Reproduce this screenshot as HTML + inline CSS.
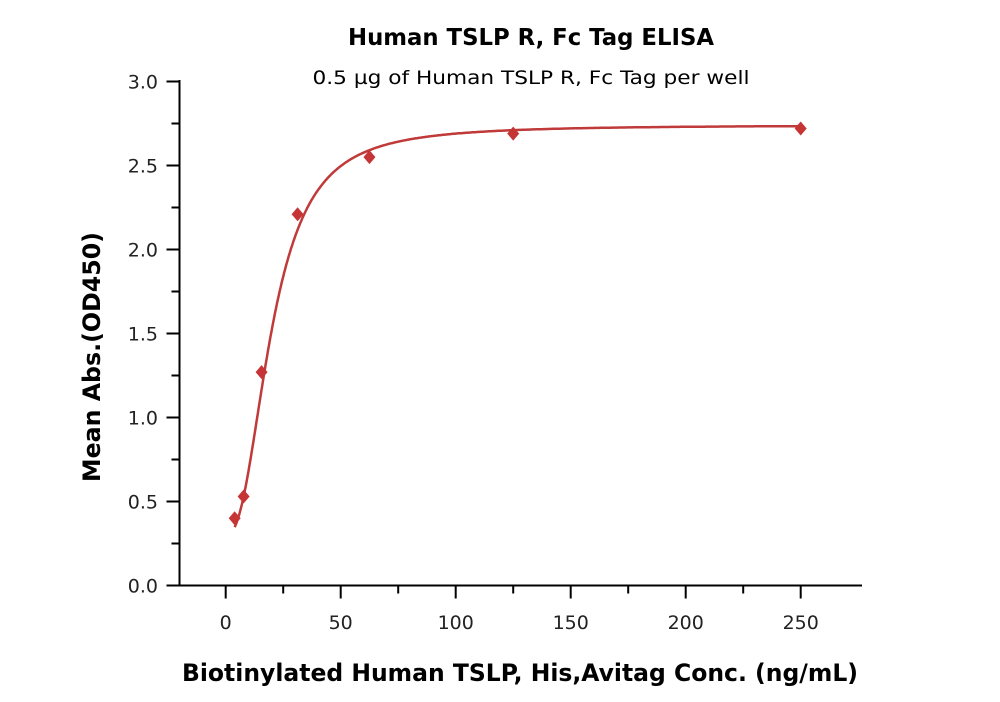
<!DOCTYPE html>
<html><head><style>body{margin:0;background:#fff}svg{display:block}</style></head><body>
<svg id="s" width="1000" height="702" xmlns="http://www.w3.org/2000/svg" font-family="'DejaVu Sans','Liberation Sans',sans-serif">
<text x="531" y="45" text-anchor="middle" font-size="23" font-weight="bold" textLength="366" lengthAdjust="spacingAndGlyphs">Human TSLP R, Fc Tag ELISA</text>
<text x="531" y="84" text-anchor="middle" font-size="19" textLength="437" lengthAdjust="spacingAndGlyphs">0.5 µg of Human TSLP R, Fc Tag per well</text>
<text x="520" y="681" text-anchor="middle" font-size="24" font-weight="bold" textLength="676" lengthAdjust="spacingAndGlyphs">Biotinylated Human TSLP, His,Avitag Conc. (ng/mL)</text>
<text transform="translate(100,357) rotate(-90)" text-anchor="middle" font-size="24" font-weight="bold" textLength="250" lengthAdjust="spacingAndGlyphs">Mean Abs.(OD450)</text>
<g id="ax" stroke="#000" stroke-width="2" fill="none"></g>
<g id="lb" font-size="19" fill="#222"></g>
<path id="cv" fill="none" stroke="#c03a3a" stroke-width="2.5"/>
<g id="pt" fill="#c63535"></g>
</svg>
<script>
const X=v=>225.7+v*2.3, Y=v=>585.5-v*168;
const ns="http://www.w3.org/2000/svg";
function el(p,t,a,txt){const e=document.createElementNS(ns,t);for(const k in a)e.setAttribute(k,a[k]);if(txt!=null)e.textContent=txt;document.getElementById(p).appendChild(e);}
el("ax","path",{d:"M179.5 80 V585.5 H862"});
for(let i=0;i<=12;i++){const v=i*0.25,y=Y(v),L=i%2?8:13;el("ax","path",{d:`M179.5 ${y} h${-L}`});if(i%2==0)el("lb","text",{x:158,y:y+7,"text-anchor":"end"},v.toFixed(1));}
for(let i=0;i<=10;i++){const v=i*25,x=X(v),L=i%2?8:13;el("ax","path",{d:`M${x} 585.5 v${L}`});if(i%2==0)el("lb","text",{x:x,y:629,"text-anchor":"middle"},String(v));}
let d="";for(let x=3.9;x<=250;x+=0.5){const y=2.74-2.44/(1+Math.pow(x/20,2.4));d+=(d?"L":"M")+X(x).toFixed(1)+" "+Y(y).toFixed(1);}
document.getElementById("cv").setAttribute("d",d);
[[3.9,0.40],[7.8,0.53],[15.6,1.27],[31.25,2.21],[62.5,2.55],[125,2.69],[250,2.72]].forEach(([a,b])=>{const x=X(a),y=Y(b);el("pt","path",{d:`M${x} ${y-7} L${x+6} ${y} L${x} ${y+7} L${x-6} ${y}Z`});});
</script>
</body></html>
